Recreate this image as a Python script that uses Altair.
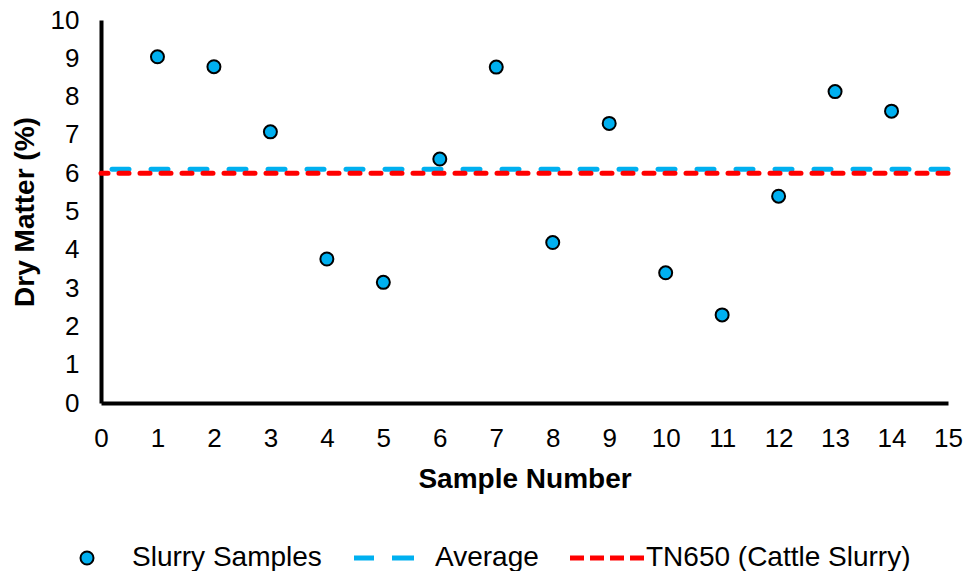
import altair as alt
import pandas as pd

# ---- data ----
sample_number = [1, 2, 3, 4, 5, 6, 7, 8, 9, 10, 11, 12, 13, 14]
dry_matter = [9.04, 8.78, 7.08, 3.76, 3.15, 6.37, 8.77, 4.19, 7.30, 3.40, 2.30, 5.40, 8.13, 7.62]
average_value = [6.1]
tn650_value = [6.0]
series_names = ["Slurry Samples", "Average", "TN650 (Cattle Slurry)"]
x_ticks = list(range(0, 16))
y_ticks = list(range(0, 11))

BLUE = "#00B0F0"
RED = "#FF0000"
FONT = "Liberation Sans"

# legend symbol shapes (symbol units; circle for samples, dashed / dotted bars for lines)
def bars(segments, h=0.23):
    return " ".join(f"M{a},{-h}H{b}V{h}H{a}Z" for a, b in segments)

dash_path = bars([(-5.385, -2.615), (0.462, 3.538)])
dot_path = bars([(-4.615, -2.769), (-1.538, 0.308), (1.538, 3.385), (4.615, 6.462)])

pts = pd.DataFrame({"x": sample_number, "y": dry_matter,
                    "series": ["Slurry Samples"] * len(sample_number)})
avg_df = pd.DataFrame({"y": average_value})
tn_df = pd.DataFrame({"y": tn650_value})

legend = alt.Legend(title=None, orient="none", direction="horizontal",
                    legendX=-28, legendY=524,
                    labelFont=FONT, labelFontSize=28, labelColor="#000000",
                    symbolSize=169, symbolStrokeWidth=2, labelOffset=31,
                    columnPadding=28, labelLimit=400)

xscale = alt.Scale(domain=[0, 15], nice=False, zero=False)
yscale = alt.Scale(domain=[0, 10], nice=False)

xaxis = alt.Axis(values=x_ticks, title="Sample Number", grid=False, ticks=False,
                 domainColor="#000000", domainWidth=4, labelFont=FONT, labelFontSize=26,
                 labelColor="#000000", labelPadding=22, titleFont=FONT, titleFontSize=28,
                 titleFontWeight="bold", titleColor="#000000", titlePadding=14,
                 labelFlush=False, labelOverlap=False)
yaxis = alt.Axis(values=y_ticks, title="Dry Matter (%)", grid=False, ticks=False,
                 domainColor="#000000", domainWidth=4, labelFont=FONT, labelFontSize=26,
                 labelColor="#000000", labelPadding=22, titleFont=FONT, titleFontSize=28,
                 titleFontWeight="bold", titleColor="#000000", titlePadding=11,
                 labelFlush=False, labelOverlap=False)

avg_rule = alt.Chart(avg_df).mark_rule(
    color=BLUE, strokeWidth=5, strokeDash=[17, 22], strokeCap="round"
).encode(y=alt.Y("y:Q", scale=yscale, axis=yaxis))

tn_rule = alt.Chart(tn_df).mark_rule(
    color=RED, strokeWidth=5, strokeDash=[10, 11], strokeCap="round"
).encode(y=alt.Y("y:Q", scale=yscale, axis=yaxis))

points = alt.Chart(pts).mark_point(filled=True, size=169, strokeWidth=2, opacity=1).encode(
    x=alt.X("x:Q", scale=xscale, axis=xaxis),
    y=alt.Y("y:Q", scale=yscale, axis=yaxis),
    shape=alt.Shape("series:N", scale=alt.Scale(domain=series_names,
                                                range=["circle", dash_path, dot_path]),
                    legend=legend),
    fill=alt.Fill("series:N", scale=alt.Scale(domain=series_names, range=[BLUE, BLUE, RED]),
                  legend=legend),
    stroke=alt.Stroke("series:N", scale=alt.Scale(domain=series_names,
                                                  range=["#000000", BLUE, RED]),
                      legend=legend),
)

chart = alt.layer(avg_rule, tn_rule, points).properties(
    width=847, height=383,
    autosize=alt.AutoSizeParams(type="none"),
    padding={"left": 101, "top": 20, "right": 23, "bottom": 168},
    background="white",
).configure_view(stroke=None)

chart.save("out.html", embed_options={"renderer": "svg", "actions": False})
